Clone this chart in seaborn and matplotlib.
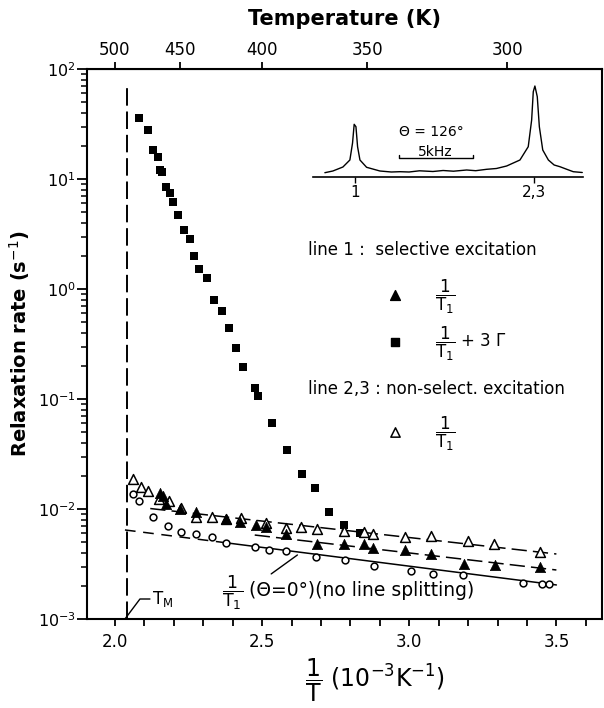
import numpy as np
import pandas as pd
import seaborn as sns
import matplotlib
matplotlib.use("Agg")
import matplotlib.pyplot as plt
from matplotlib.ticker import LogLocator, MultipleLocator, NullFormatter, NullLocator

# line 1, 1/T1 + 3*Gamma (filled squares)
sq_x = [2.081, 2.111, 2.129, 2.145, 2.153, 2.160, 2.174, 2.187, 2.198, 2.215, 2.235, 2.254,
        2.269, 2.285, 2.312, 2.337, 2.363, 2.386, 2.411, 2.434, 2.475, 2.487, 2.533, 2.585,
        2.634, 2.679, 2.726, 2.780, 2.832]
sq_y = [36.1, 27.9, 18.4, 15.9, 12.1, 11.6, 8.5, 7.46, 6.22, 4.71, 3.44, 2.87,
        2.0, 1.53, 1.27, 0.80, 0.63, 0.44, 0.292, 0.197, 0.125, 0.106, 0.0605, 0.0344,
        0.0208, 0.0154, 0.0094, 0.00711, 0.00601]

# line 1, 1/T1 (filled triangles)
ftri_x = [2.153, 2.163, 2.175, 2.220, 2.277, 2.379, 2.424, 2.480, 2.514, 2.580, 2.686, 2.780,
          2.847, 2.878, 2.986, 3.075, 3.186, 3.291, 3.444]
ftri_y = [0.0139, 0.01313, 0.0111, 0.00994, 0.00945, 0.00811, 0.00757, 0.00716, 0.00691,
          0.00593, 0.00478, 0.00481, 0.00481, 0.00445, 0.00424, 0.00387, 0.00314, 0.00308, 0.00297]

# line 2,3, 1/T1 (open triangles)
otri_x = [2.063, 2.087, 2.113, 2.149, 2.183, 2.224, 2.277, 2.331, 2.376, 2.429, 2.514, 2.580,
          2.633, 2.687, 2.780, 2.847, 2.878, 2.987, 3.075, 3.198, 3.288, 3.444]
otri_y = [0.01875, 0.01575, 0.01465, 0.01233, 0.01189, 0.01028, 0.00851, 0.00841, 0.00811,
          0.00822, 0.0075, 0.00676, 0.00686, 0.00662, 0.00631, 0.00622, 0.00589, 0.00556,
          0.00571, 0.00515, 0.00481, 0.00404]

# 1/T1 at theta = 0 deg (open circles)
circ_x = [2.060, 2.081, 2.130, 2.179, 2.226, 2.277, 2.330, 2.379, 2.477, 2.523, 2.580, 2.682,
          2.782, 2.879, 3.006, 3.082, 3.184, 3.386, 3.452, 3.475]
circ_y = [0.01368, 0.01175, 0.00841, 0.00705, 0.00618, 0.00593, 0.00556, 0.00488, 0.00454,
          0.00424, 0.00415, 0.00364, 0.00344, 0.00305, 0.00275, 0.00255, 0.00251, 0.00212,
          0.00207, 0.00207]

# fitted lines
fit_open_x = [2.12, 3.50]
fit_open_y = [0.0101, 0.0039]
fit_filled_x = [2.475, 3.50]
fit_filled_y = [0.0058, 0.00279]
fit_circ_x = [2.034, 2.37, 3.50]
fit_circ_y = [0.00645, 0.00496, 0.00204]

# melting point
tm_x = 2.04
tm_top = 67

temp_ticks = [500, 450, 400, 350, 300]

# inset spectrum (kHz, arbitrary intensity)
spec_khz = [0.81, 1.35, 2.03, 2.50, 2.68, 2.79, 2.91, 3.02, 3.18, 3.63, 4.53, 5.3, 5.88, 6.5,
            7.2, 8.11, 8.8, 9.5, 10.39, 11.0, 11.74, 12.4, 13.09, 13.99, 14.55, 14.78, 14.89,
            15.0, 15.16, 15.30, 15.53, 15.91, 16.3, 16.69, 17.1, 17.59, 18.2]
spec_int = [4.3, 6, 10, 17, 34, 52.7, 50.3, 30.3, 17, 9.7, 6, 5, 5.3, 5.0,
            6.2, 5.5, 6.5, 5.8, 7, 6.3, 7.7, 8.5, 11, 17, 30.3, 57, 85.3,
            91, 80.3, 50.3, 27, 17, 12, 10.3, 8, 5.3, 4.5]
peak_pos = [2.84, 14.95]
peak_labels = ["1", "2,3"]

sns.set_style("ticks", {"axes.edgecolor": "black", "text.color": "black",
                        "axes.labelcolor": "black", "xtick.color": "black",
                        "ytick.color": "black"})
plt.rcParams['font.family'] = ['DejaVu Sans']
plt.rcParams['mathtext.fontset'] = 'dejavusans'

fig = plt.figure(figsize=(6.04, 7.08), dpi=100)
ax = fig.add_axes([0.144, 0.1257, 0.8527, 0.7768])

# fit lines
ax.plot(fit_open_x, fit_open_y, color='black', lw=1.1, dashes=(10, 4), zorder=2)
ax.plot(fit_filled_x, fit_filled_y, color='black', lw=1.1, dashes=(10, 4), zorder=2)
ax.plot(fit_circ_x[:2], fit_circ_y[:2], color='black', lw=1.1, dashes=(7, 5), zorder=2)
ax.plot(fit_circ_x[1:], fit_circ_y[1:], color='black', lw=1.1, zorder=2)
ax.vlines(tm_x, 1e-3, tm_top, color='black', lw=1.4, linestyles=(0, (9, 3)), zorder=2)

sns.scatterplot(x=sq_x, y=sq_y, marker='s', s=38, color='black', edgecolor='black',
                linewidth=0, ax=ax, zorder=4)
sns.scatterplot(x=ftri_x, y=ftri_y, marker='^', s=55, color='black', edgecolor='black',
                linewidth=0.5, ax=ax, zorder=5)
sns.scatterplot(x=otri_x, y=otri_y, marker='^', s=50, color='white', edgecolor='black',
                linewidth=1.1, ax=ax, zorder=4)
sns.scatterplot(x=circ_x, y=circ_y, marker='o', s=24, color='white', edgecolor='black',
                linewidth=1.1, ax=ax, zorder=4)

ax.set_yscale('log')
ax.set_xlim(1.905, 3.655)
ax.set_ylim(1e-3, 1e2)
ax.xaxis.set_major_locator(MultipleLocator(0.5))
ax.xaxis.set_minor_locator(MultipleLocator(0.1))
ax.xaxis.set_major_formatter(matplotlib.ticker.FormatStrFormatter('%.1f'))
ax.yaxis.set_major_locator(LogLocator(base=10, numticks=10))
ax.yaxis.set_minor_locator(LogLocator(base=10, subs=np.arange(2, 10), numticks=20))
ax.yaxis.set_minor_formatter(NullFormatter())
ax.tick_params(axis='x', which='both', direction='out', length=5, width=1.3, labelsize=12, pad=5)
ax.tick_params(axis='y', which='major', direction='out', length=7, width=1.3, labelsize=11.5, pad=1)
ax.tick_params(axis='y', which='minor', direction='out', length=4, width=1.1)
for sp in ax.spines.values():
    sp.set_linewidth(1.5)
    sp.set_visible(True)

def to_temp(x):
    x = np.asarray(x, float)
    with np.errstate(divide='ignore'):
        return 1000.0 / x

secax = ax.secondary_xaxis('top', functions=(to_temp, to_temp))
secax.set_xticks(temp_ticks)
secax.xaxis.set_minor_locator(NullLocator())
secax.tick_params(direction='out', length=5, width=1.3, labelsize=12, pad=2)
secax.set_xlabel("Temperature (K)", fontsize=15, fontweight='bold', labelpad=12)

ax.set_ylabel("Relaxation rate (s$^{-1}$)", fontsize=14, fontweight='bold', labelpad=4)
ax.set_xlabel(r'$\dfrac{\mathregular{1}}{\mathregular{T}}$ (10$^{-3}$K$^{-1}$)', fontsize=17)
ax.xaxis.set_label_coords(0.56, -0.068)

# T_M marker
ax.plot([2.034, 2.085, 2.119], [1.0e-3, 1.52e-3, 1.52e-3], color='black', lw=1)
ax.text(2.125, 1.52e-3, r'T$_\mathregular{M}$', fontsize=12, va='center', ha='left')

frac_t1 = r'$\dfrac{\mathregular{1}}{\mathregular{T_1}}$'

# theta = 0 annotation
ax.plot([2.531, 2.620], [2.57e-3, 3.82e-3], color='black', lw=1)
ax.text(2.40, 1.72e-3, frac_t1, fontsize=12.5, va='center', ha='center')
ax.text(2.455, 1.8e-3, '(Θ=0°)(no line splitting)', fontsize=13.5, va='center', ha='left')

# legend block
tr = ax.transAxes
ax.text(0.429, 0.671, 'line 1 :  selective excitation', transform=tr, fontsize=12, va='center')
ax.scatter([0.598], [0.589], marker='^', s=50, color='black', transform=tr)
ax.text(0.675, 0.585, frac_t1, transform=tr, fontsize=12, va='center')
ax.scatter([0.598], [0.504], marker='s', s=32, color='black', transform=tr)
ax.text(0.675, 0.500, frac_t1 + ' + 3 Γ', transform=tr, fontsize=12, va='center')
ax.text(0.429, 0.418, 'line 2,3 : non-select. excitation', transform=tr, fontsize=12, va='center')
ax.scatter([0.598], [0.34], marker='^', s=45, facecolor='white', edgecolor='black',
           linewidth=1.1, transform=tr)
ax.text(0.675, 0.336, frac_t1, transform=tr, fontsize=12, va='center')

# inset spectrum
ins = fig.add_axes([0.518, 0.75, 0.447, 0.137])
ins.patch.set_alpha(0)
sns.lineplot(x=spec_khz, y=spec_int, color='black', lw=1.0, sort=False, ax=ins)
ins.set_xlim(0, 18.24)
ins.set_ylim(0, 97)
for s in ['top', 'right', 'left']:
    ins.spines[s].set_visible(False)
ins.spines['bottom'].set_linewidth(1.2)
ins.set_yticks([])
ins.set_xticks(peak_pos, peak_labels)
ins.tick_params(axis='x', direction='out', length=4, width=1, labelsize=11, pad=2)
ins.plot([5.8, 5.8, 10.8, 10.8], [22, 19, 19, 22], color='black', lw=1)
ins.text(8.3, 25, '5kHz', fontsize=10, ha='center', va='center')
ins.text(8.0, 45, 'Θ = 126°', fontsize=10, ha='center', va='center')

fig.savefig('out.png', dpi=100)
